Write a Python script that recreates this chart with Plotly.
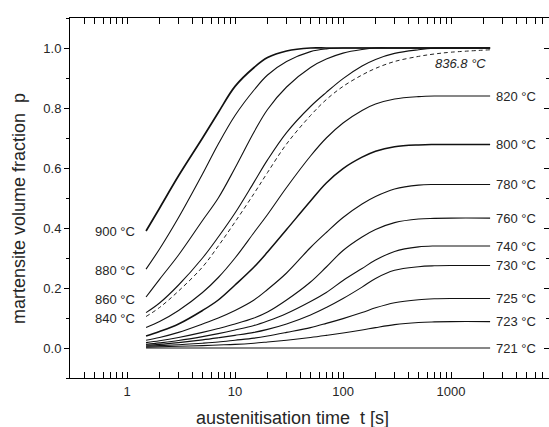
import math
import plotly.graph_objects as go

# austenitisation time [s]
t = [1.5, 2, 3, 5, 7, 10, 15, 20, 30, 50, 70, 100, 150, 200, 300, 500, 700, 1000, 2300]

# martensite volume fraction p for each austenitisation temperature
p900 = [0.39, 0.466, 0.574, 0.70, 0.785, 0.872, 0.935, 0.968, 0.99, 1.0, 1.0, 1.0, 1.0, 1.0, 1.0, 1.0, 1.0, 1.0, 1.0]
p880 = [0.263, 0.33, 0.435, 0.58, 0.68, 0.775, 0.86, 0.91, 0.955, 0.988, 0.997, 1.0, 1.0, 1.0, 1.0, 1.0, 1.0, 1.0, 1.0]
p860 = [0.17, 0.229, 0.31, 0.425, 0.50, 0.60, 0.72, 0.795, 0.87, 0.935, 0.963, 0.983, 0.995, 1.0, 1.0, 1.0, 1.0, 1.0, 1.0]
p840 = [0.118, 0.15, 0.21, 0.30, 0.37, 0.45, 0.553, 0.627, 0.718, 0.805, 0.852, 0.898, 0.94, 0.962, 0.982, 0.994, 0.999, 1.0, 1.0]
p836_8 = [0.105, 0.135, 0.19, 0.27, 0.34, 0.42, 0.515, 0.585, 0.68, 0.775, 0.828, 0.872, 0.91, 0.932, 0.955, 0.972, 0.98, 0.986, 0.994]
p820 = [0.068, 0.088, 0.125, 0.185, 0.235, 0.30, 0.385, 0.445, 0.535, 0.64, 0.70, 0.75, 0.792, 0.813, 0.83, 0.838, 0.84, 0.84, 0.84]
p800 = [0.04, 0.055, 0.08, 0.125, 0.16, 0.21, 0.27, 0.32, 0.395, 0.49, 0.55, 0.598, 0.636, 0.656, 0.671, 0.677, 0.678, 0.678, 0.678]
p780 = [0.026, 0.035, 0.052, 0.08, 0.10, 0.125, 0.16, 0.195, 0.25, 0.335, 0.385, 0.435, 0.48, 0.505, 0.53, 0.543, 0.545, 0.545, 0.545]
p760 = [0.018, 0.024, 0.035, 0.052, 0.065, 0.08, 0.10, 0.12, 0.16, 0.22, 0.27, 0.325, 0.37, 0.395, 0.418, 0.43, 0.432, 0.433, 0.433]
p740 = [0.012, 0.017, 0.025, 0.038, 0.048, 0.06, 0.075, 0.09, 0.115, 0.155, 0.185, 0.225, 0.265, 0.293, 0.322, 0.337, 0.34, 0.34, 0.34]
p730 = [0.009, 0.012, 0.018, 0.027, 0.034, 0.042, 0.052, 0.062, 0.08, 0.11, 0.135, 0.165, 0.203, 0.232, 0.259, 0.271, 0.274, 0.275, 0.275]
p725 = [0.006, 0.008, 0.011, 0.016, 0.02, 0.026, 0.033, 0.04, 0.052, 0.068, 0.082, 0.098, 0.118, 0.134, 0.151, 0.161, 0.164, 0.165, 0.165]
p723 = [0.003, 0.004, 0.006, 0.008, 0.010, 0.012, 0.016, 0.02, 0.026, 0.035, 0.042, 0.05, 0.06, 0.068, 0.078, 0.085, 0.087, 0.088, 0.088]
p721 = [0.0] * len(t)

left_labels = ["900 °C", "880 °C", "860 °C", "840 °C"]
right_labels = ["820 °C", "800 °C", "780 °C", "760 °C", "740 °C", "730 °C", "725 °C", "723 °C", "721 °C"]
dashed_label = "836.8 °C"

x_ticks = [1, 10, 100, 1000]
y_ticks = [0.0, 0.2, 0.4, 0.6, 0.8, 1.0]

FONT = "Liberation Sans, Arial, sans-serif"
TXT = "#262626"

fig = go.Figure()

left_series = [p900, p880, p860, p840]
right_series = [p820, p800, p780, p760, p740, p730, p725, p723]
widths_left = [1.7, 1.1, 1.1, 1.1]
widths_right = [1.1, 1.5, 1.1, 1.1, 1.1, 1.1, 1.1, 1.1]

for s, w in zip(left_series, widths_left):
    fig.add_trace(go.Scatter(x=t, y=s, mode="lines",
                             line=dict(color="#111111", width=w, shape="spline", smoothing=1.0),
                             hoverinfo="skip"))
fig.add_trace(go.Scatter(x=t, y=p836_8, mode="lines",
                         line=dict(color="#222222", width=1.0, dash="4px,3px", shape="spline", smoothing=1.0),
                         hoverinfo="skip"))
for s, w in zip(right_series, widths_right):
    fig.add_trace(go.Scatter(x=t, y=s, mode="lines",
                             line=dict(color="#111111", width=w, shape="spline", smoothing=1.0),
                             hoverinfo="skip"))
# 721 °C curve on the mirrored right axis (same range)
fig.add_trace(go.Scatter(x=t, y=p721, mode="lines", yaxis="y2",
                         line=dict(color="#111111", width=1.1), hoverinfo="skip"))

ann = []
left_shift = [0, -1, -2, -6]
for lab, s, ys in zip(left_labels, left_series, left_shift):
    ann.append(dict(x=math.log10(t[0]), y=s[0], xref="x", yref="y", text=lab,
                    showarrow=False, xanchor="right", yanchor="middle",
                    xshift=-9, yshift=ys, font=dict(family=FONT, size=13, color=TXT)))
for lab, s in zip(right_labels, right_series + [p721]):
    ann.append(dict(x=math.log10(t[-1]), y=s[-1], xref="x", yref="y", text=lab,
                    showarrow=False, xanchor="left", yanchor="middle",
                    xshift=4, font=dict(family=FONT, size=13, color=TXT)))
ann.append(dict(x=math.log10(t[-1]), y=p836_8[-1], xref="x", yref="y",
                text="<i>" + dashed_label + "</i>", showarrow=False,
                xanchor="right", yanchor="middle", xshift=-2, yshift=-14,
                font=dict(family=FONT, size=13, color=TXT)))
ann.append(dict(x=(19 - 70) / 479, y=(378 - 209) / 360, xref="paper", yref="paper",
                text="martensite volume fraction\u00a0 p", textangle=-90, showarrow=False,
                xanchor="center", yanchor="middle", font=dict(family=FONT, size=18, color=TXT)))
ann.append(dict(x=(292 - 70) / 479, y=(378 - 417.5) / 360, xref="paper", yref="paper",
                text="austenitisation time\u00a0 t [s]", showarrow=False,
                xanchor="center", yanchor="middle", font=dict(family=FONT, size=18, color=TXT)))

fig.update_layout(
    width=549, height=427,
    margin=dict(l=70, r=0, t=18, b=49),
    paper_bgcolor="white", plot_bgcolor="white",
    showlegend=False,
    annotations=ann,
    font=dict(family=FONT, size=13, color=TXT),
    xaxis=dict(type="log", range=[-0.528, 3.907],
               tickvals=x_ticks, ticktext=[str(v) for v in x_ticks],
               ticks="inside", ticklen=6, tickwidth=1, tickcolor="black",
               minor=dict(ticks="inside", ticklen=3, tickwidth=1, tickcolor="black", dtick="D1", showgrid=False),
               showline=True, linecolor="black", linewidth=1, mirror="allticks",
               showgrid=False, zeroline=False, ticklabelstandoff=1,
               tickfont=dict(family=FONT, size=13, color=TXT)),
    yaxis=dict(range=[-0.1, 1.1], tickvals=y_ticks, tickformat=".1f",
               ticks="outside", ticklen=5, tickwidth=1, tickcolor="black",
               minor=dict(ticks="outside", ticklen=3, tickwidth=1, tickcolor="black", dtick=0.1, showgrid=False),
               showline=True, linecolor="black", linewidth=1, mirror=False,
               showgrid=False, zeroline=False,
               tickfont=dict(family=FONT, size=13, color=TXT)),
    yaxis2=dict(range=[-0.1, 1.1], overlaying="y", side="right", anchor="x",
                tickvals=y_ticks, showticklabels=False,
                ticks="inside", ticklen=5, tickwidth=1, tickcolor="black",
                minor=dict(ticks="inside", ticklen=3, tickwidth=1, tickcolor="black", dtick=0.1, showgrid=False),
                showline=False, showgrid=False, zeroline=False),
)

fig.write_html("out.html")
